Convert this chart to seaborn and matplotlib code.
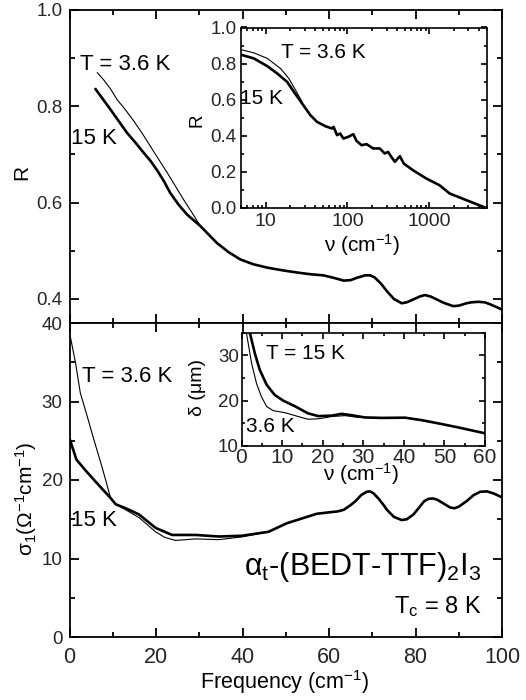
import matplotlib
matplotlib.use("Agg")
import matplotlib.pyplot as plt
import seaborn as sns
import numpy as np
import pandas as pd
from matplotlib.ticker import MultipleLocator, LogLocator, NullFormatter, FixedLocator

# ---------------- data ----------------
# Main top: reflectivity R vs frequency (cm^-1)
R36_f = [6.4, 7.9, 9.5, 11.0, 13.0, 14.9, 16.8, 18.7, 20.6, 22.6, 24.5, 26.4, 28.4, 30.3, 34.1]
R36 = [0.870, 0.855, 0.836, 0.814, 0.792, 0.769, 0.744, 0.717, 0.690, 0.662, 0.634, 0.606, 0.578,
       0.551, 0.516]

R15_f = [6.0, 7.8, 9.5, 11.4, 13.3, 15.3, 17.2, 18.7, 20.2, 21.8, 23.3, 25.2, 27.2, 30.3, 34.1,
         36.8, 39.5, 42.5, 45.7, 49.5, 53.3, 56.0,
         58.7, 61.0, 63.4, 65.0, 66.5, 68.4, 69.5, 70.5, 72.0, 73.4, 75.0, 76.8, 78.0,
         79.5, 81.0, 82.2, 83.5, 84.9, 86.5, 88.7, 90.0, 91.8, 93.0, 94.5, 96.0, 97.2,
         98.5, 100.0]
R15 = [0.836, 0.814, 0.793, 0.769, 0.745, 0.724, 0.703, 0.687, 0.668, 0.645, 0.620, 0.596, 0.575,
       0.551, 0.516, 0.497, 0.482, 0.472, 0.465, 0.459, 0.454, 0.451,
       0.449, 0.444, 0.438, 0.439, 0.444, 0.449, 0.449, 0.445, 0.432, 0.416, 0.400, 0.391, 0.393,
       0.399, 0.405, 0.408, 0.405, 0.399, 0.392, 0.385, 0.386, 0.391, 0.393, 0.394, 0.393, 0.389,
       0.384, 0.378]

# Main bottom: sigma_1 vs frequency
S36_f = [0, 1.4, 2.5, 4.1, 5.6, 7.5, 9.5, 10.7, 13.0, 16.1, 19.9, 22.0, 24.5, 29.2, 34.5, 39.9, 46.0]
S36 = [38.8, 34.9, 31.1, 28.1, 25.2, 21.7, 17.7, 16.9, 16.2, 15.2, 13.4, 12.7, 12.3, 12.5, 12.4, 12.75, 13.4]

S15_f = [0, 1.6, 3.9, 7.0, 9.5, 10.7, 13.0, 16.1, 19.9, 23.7, 29.2, 34.5, 39.9, 46.0, 50.3, 57.2,
         60.3, 62.0, 63.4, 65.0, 66.1, 67.5, 68.7, 69.5, 70.3, 71.5, 72.5, 73.4, 75.0, 76.8, 78.0,
         79.5, 81.0, 82.0, 83.0, 84.0, 85.0, 86.5, 88.0, 89.0, 90.0, 91.8, 93.5, 95.0, 96.5, 98.0, 100.0]
S15 = [25.3, 22.6, 21.1, 19.2, 17.7, 16.9, 16.4, 15.6, 13.9, 13.0, 13.0, 12.8, 12.9, 13.4, 14.5, 15.7,
       15.9, 16.0, 16.2, 16.8, 17.3, 18.1, 18.5, 18.55, 18.3, 17.6, 16.9, 16.2, 15.3, 14.9, 15.0,
       15.6, 16.6, 17.3, 17.6, 17.65, 17.5, 17.0, 16.5, 16.4, 16.6, 17.3, 18.1, 18.5, 18.55, 18.3, 17.8]

# Inset top: R vs nu (log)
IR36_f = [4.9, 7.2, 10.5, 15.2, 19.2, 23.2, 27.9]
IR36 = [0.878, 0.859, 0.828, 0.772, 0.717, 0.652, 0.587]

IR15_f = [4.9, 7.2, 10.5, 13.9, 18.3, 22.1, 27.9, 35.2, 42.4, 53.5, 64.6, 67.7, 74.4, 81.4, 89.3,
          102.6, 118, 129, 149, 171, 206, 248, 285, 313, 344, 379, 437, 488, 632, 920, 1330,
          1770, 2830, 4790]
IR15 = [0.850, 0.828, 0.785, 0.744, 0.698, 0.643, 0.578, 0.513, 0.476, 0.452, 0.439, 0.448, 0.402,
        0.411, 0.383, 0.393, 0.407, 0.370, 0.346, 0.352, 0.328, 0.328, 0.300, 0.309, 0.281, 0.254,
        0.285, 0.244, 0.207, 0.161, 0.124, 0.078, 0.041, 0.0]

# Inset bottom: penetration depth delta vs nu
D15_f = [2.05, 3.3, 4.5, 6.2, 8.2, 10.3, 13.1, 16.4, 18.9, 22.2, 24.7, 27.1, 30.4, 34.5, 40.3,
         44.4, 49.3, 53.4, 60.0]
D15 = [35.0, 30.4, 26.8, 23.5, 21.25, 20.0, 18.8, 17.2, 16.6, 16.7, 17.1, 16.8, 16.3, 16.2, 16.25,
       15.7, 14.85, 14.1, 12.8]

D36_f = [1.2, 2.5, 3.7, 4.9, 6.2, 7.8, 10.7, 13.6, 16.4, 18.9, 22.2, 25.5, 28.8, 30.4]
D36 = [35.0, 28.2, 23.8, 20.9, 18.7, 17.8, 17.35, 16.6, 15.9, 16.0, 16.5, 16.7, 16.3, 16.3]

# ---------------- style ----------------
sns.set_style("ticks")
plt.rcParams['font.family'] = ['Liberation Sans', 'DejaVu Sans']
plt.rcParams['mathtext.fontset'] = 'custom'
plt.rcParams['mathtext.rm'] = 'Liberation Sans'
plt.rcParams['mathtext.it'] = 'Liberation Sans:italic'
plt.rcParams['mathtext.sf'] = 'Liberation Sans'
plt.rcParams['mathtext.default'] = 'regular'

W, H = 526, 700
fig = plt.figure(figsize=(W / 100, H / 100), dpi=100)

def fx(x):
    return x / W

def fy(y):
    return 1 - y / H

THICK = 1.9
THIN = 0.8

ax1 = fig.add_axes([fx(69.5), fy(323), fx(502) - fx(69.5), fy(10) - fy(323)])
ax2 = fig.add_axes([fx(69.5), fy(637), fx(502) - fx(69.5), fy(323) - fy(637)])
in1 = fig.add_axes([fx(241), fy(207.5), fx(486.5) - fx(241), fy(27.5) - fy(207.5)])
in2 = fig.add_axes([fx(241.5), fy(446), fx(485) - fx(241.5), fy(332.7) - fy(446)])

def line(ax, xs, ys, lw):
    sns.lineplot(x=xs, y=ys, ax=ax, color='black', lw=lw, estimator=None, sort=False)

line(ax1, R36_f, R36, THIN)
line(ax1, R15_f, R15, THICK)
line(ax2, S36_f, S36, THIN)
line(ax2, S15_f, S15, THICK)
line(in1, IR36_f, IR36, THIN)
line(in1, IR15_f, IR15, THICK)
line(in2, D36_f, D36, THIN)
line(in2, D15_f, D15, THICK)

def style(ax, major, minor, xsize, ysize, pad_x, pad_y, lw=1.3):
    for s in ax.spines.values():
        s.set_visible(True)
        s.set_linewidth(lw)
        s.set_color('black')
    ax.tick_params(which='both', direction='in', top=True, right=True, color='black')
    ax.tick_params(which='major', length=major, width=lw)
    ax.tick_params(which='minor', length=minor, width=lw)
    ax.tick_params(axis='x', labelsize=xsize, pad=pad_x)
    ax.tick_params(axis='y', labelsize=ysize, pad=pad_y)
    ax.set_xlabel('')
    ax.set_ylabel('')

# top main
ax1.set_xlim(0, 100)
ax1.set_ylim(0.35, 1.0)
ax1.xaxis.set_major_locator(MultipleLocator(20))
ax1.xaxis.set_minor_locator(MultipleLocator(10))
ax1.yaxis.set_major_locator(MultipleLocator(0.2))
ax1.yaxis.set_minor_locator(MultipleLocator(0.1))
style(ax1, 6.5, 3.5, 15, 13.5, 7, 5)
ax1.tick_params(axis='x', labelbottom=False)
ax1.yaxis.set_major_formatter(matplotlib.ticker.FormatStrFormatter('%.1f'))

# bottom main
ax2.set_xlim(0, 100)
ax2.set_ylim(0, 40)
ax2.xaxis.set_major_locator(MultipleLocator(20))
ax2.xaxis.set_minor_locator(MultipleLocator(10))
ax2.yaxis.set_major_locator(MultipleLocator(10))
ax2.yaxis.set_minor_locator(MultipleLocator(5))
style(ax2, 6.5, 3.5, 15.5, 13.5, 7, 5)

# top inset
in1.set_xscale('log')
in1.set_xlim(5, 5000)
in1.set_ylim(0, 1.0)
in1.xaxis.set_major_locator(FixedLocator([10, 100, 1000]))
in1.xaxis.set_major_formatter(matplotlib.ticker.FixedFormatter(['10', '100', '1000']))
in1.xaxis.set_minor_locator(LogLocator(base=10, subs=np.arange(2, 10)))
in1.xaxis.set_minor_formatter(NullFormatter())
in1.yaxis.set_major_locator(MultipleLocator(0.2))
in1.yaxis.set_minor_locator(MultipleLocator(0.1))
in1.yaxis.set_major_formatter(matplotlib.ticker.FormatStrFormatter('%.1f'))
style(in1, 4.5, 2.5, 14, 13.5, 4, 3, lw=1.2)

# bottom inset
in2.set_xlim(0, 60)
in2.set_ylim(10, 35)
in2.xaxis.set_major_locator(MultipleLocator(10))
in2.xaxis.set_minor_locator(MultipleLocator(5))
in2.yaxis.set_major_locator(MultipleLocator(10))
in2.yaxis.set_minor_locator(MultipleLocator(5))
style(in2, 4.5, 2.5, 15, 13.5, 1.5, 2, lw=1.2)

# ---------------- text ----------------
def t(x, y, s, size, **kw):
    kw.setdefault('ha', 'left')
    kw.setdefault('va', 'center')
    fig.text(fx(x), fy(y), s, fontsize=size, color='black', **kw)

# axis labels
t(22, 172, 'R', 15, rotation=90, ha='center')
t(26, 499, 'σ$_1$(Ω$^{-1}$cm$^{-1}$)', 15, rotation=90, ha='center')
t(285, 682, 'Frequency (cm$^{-1}$)', 15.5, ha='center')
t(197, 120, 'R', 13.5, rotation=90, ha='center')
t(362, 245, 'ν (cm$^{-1}$)', 15, ha='center')
t(198, 388, 'δ (μm)', 14, rotation=90, ha='center')
t(361, 474, 'ν (cm$^{-1}$)', 15, ha='center')

# annotations
t(80, 64, 'T = 3.6 K', 16)
t(71, 138, '15 K', 16)
t(281, 53, 'T = 3.6 K', 15)
t(240, 99, '15 K', 15)
t(82, 376, 'T = 3.6 K', 16)
t(71, 520, '15 K', 16)
t(266, 354, 'T = 15 K', 15)
t(246, 426, '3.6 K', 15)
t(244, 575, 'α$_t$-(BEDT-TTF)$_2$I$_3$', 22, va='baseline')
t(394, 613, 'T$_c$ = 8 K', 17, va='baseline')

fig.savefig('out.png', dpi=100)
